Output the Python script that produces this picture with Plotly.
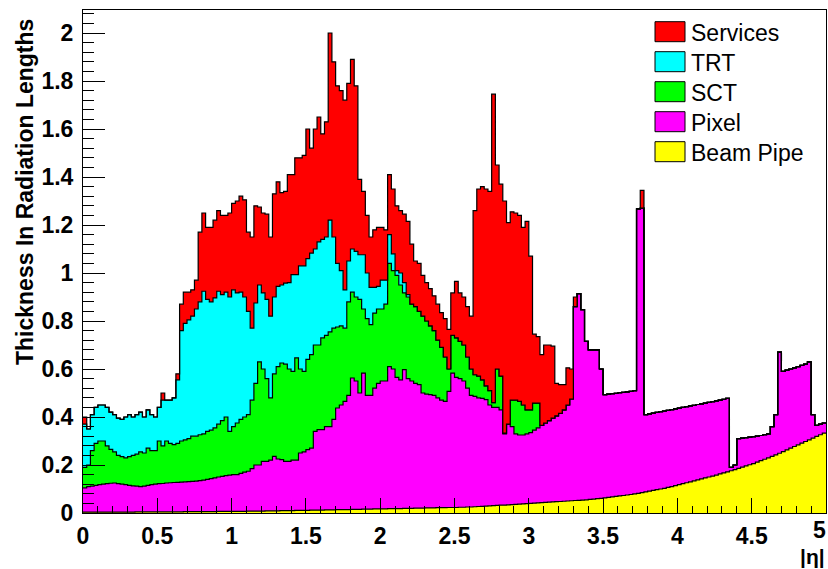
import plotly.graph_objects as go

# ---------------- data (stacked histogram tops, 200 bins of 0.025 in |eta|) ----------------
N_BINS = 200
BIN_W = 0.025

beam_pipe_top = [
    0.004, 0.004, 0.004, 0.004, 0.004, 0.004, 0.004, 0.004, 0.004, 0.004,
    0.004, 0.004, 0.004, 0.004, 0.005, 0.005, 0.005, 0.005, 0.005, 0.005,
    0.005, 0.005, 0.005, 0.005, 0.005, 0.005, 0.005, 0.006, 0.006, 0.006,
    0.006, 0.006, 0.006, 0.006, 0.006, 0.006, 0.007, 0.007, 0.007, 0.007,
    0.007, 0.007, 0.007, 0.007, 0.008, 0.008, 0.008, 0.008, 0.008, 0.009,
    0.009, 0.009, 0.009, 0.010, 0.010, 0.010, 0.010, 0.011, 0.011, 0.011,
    0.011, 0.012, 0.012, 0.012, 0.012, 0.013, 0.013, 0.013, 0.014, 0.014,
    0.014, 0.014, 0.015, 0.015, 0.015, 0.016, 0.016, 0.016, 0.017, 0.017,
    0.017, 0.017, 0.018, 0.018, 0.018, 0.018, 0.019, 0.019, 0.019, 0.020,
    0.020, 0.020, 0.021, 0.021, 0.021, 0.022, 0.022, 0.022, 0.023, 0.023,
    0.023, 0.024, 0.024, 0.025, 0.025, 0.026, 0.027, 0.028, 0.029, 0.030,
    0.031, 0.032, 0.033, 0.033, 0.034, 0.035, 0.036, 0.037, 0.038, 0.039,
    0.040, 0.041, 0.042, 0.043, 0.044, 0.045, 0.046, 0.047, 0.048, 0.049,
    0.050, 0.051, 0.052, 0.053, 0.054, 0.055, 0.057, 0.058, 0.060, 0.061,
    0.063, 0.065, 0.067, 0.069, 0.071, 0.073, 0.075, 0.077, 0.080, 0.082,
    0.085, 0.088, 0.091, 0.094, 0.097, 0.100, 0.103, 0.107, 0.110, 0.114,
    0.118, 0.122, 0.126, 0.130, 0.134, 0.138, 0.142, 0.146, 0.150, 0.154,
    0.158, 0.163, 0.167, 0.171, 0.176, 0.181, 0.186, 0.191, 0.196, 0.201,
    0.206, 0.212, 0.218, 0.224, 0.230, 0.236, 0.242, 0.249, 0.256, 0.263,
    0.270, 0.277, 0.284, 0.291, 0.298, 0.305, 0.312, 0.319, 0.326, 0.333,
]

pixel_top = [
    0.105, 0.11, 0.112, 0.115, 0.118, 0.12, 0.122, 0.124, 0.125, 0.122,
    0.12, 0.118, 0.115, 0.113, 0.112, 0.11, 0.112, 0.115, 0.118, 0.12,
    0.122, 0.123, 0.125, 0.126, 0.127, 0.128, 0.129, 0.13, 0.131, 0.132,
    0.133, 0.135, 0.137, 0.14, 0.143, 0.146, 0.15, 0.153, 0.156, 0.158,
    0.16, 0.16, 0.165, 0.17, 0.174, 0.185, 0.20, 0.20, 0.215, 0.215,
    0.22, 0.236, 0.225, 0.222, 0.215, 0.215, 0.22, 0.22, 0.25, 0.255,
    0.264, 0.27, 0.34, 0.347, 0.347, 0.36, 0.36, 0.39, 0.4375, 0.45,
    0.465, 0.49, 0.5625, 0.55, 0.50, 0.583, 0.49, 0.49, 0.52, 0.54,
    0.55, 0.55, 0.61, 0.60, 0.565, 0.555, 0.597, 0.56, 0.55, 0.54,
    0.535, 0.50, 0.495, 0.493, 0.49, 0.48, 0.47, 0.465, 0.507, 0.583,
    0.565, 0.56, 0.55, 0.52, 0.49, 0.486, 0.48, 0.478, 0.472, 0.45,
    0.44, 0.44, 0.43, 0.33, 0.37, 0.36, 0.33, 0.325, 0.325, 0.33,
    0.335, 0.345, 0.355, 0.365, 0.375, 0.385, 0.395, 0.405, 0.415, 0.43,
    0.45, 0.475, 0.86, 0.914, 0.847, 0.715, 0.68, 0.68, 0.68, 0.60,
    0.493, 0.495, 0.497, 0.499, 0.501, 0.503, 0.505, 0.507, 0.51, 1.267,
    1.27, 0.41, 0.413, 0.416, 0.419, 0.422, 0.425, 0.428, 0.431, 0.434,
    0.437, 0.44, 0.443, 0.446, 0.449, 0.452, 0.455, 0.458, 0.461, 0.464,
    0.467, 0.47, 0.474, 0.478, 0.19, 0.20, 0.31, 0.312, 0.314, 0.316,
    0.318, 0.32, 0.323, 0.326, 0.33, 0.36, 0.41, 0.67, 0.59, 0.595,
    0.60, 0.605, 0.61, 0.615, 0.62, 0.63, 0.41, 0.365, 0.37, 0.375,
]

# SCT contributes up to bin 122; beyond that its top equals the pixel top
sct_top_low = [
    0.19, 0.20, 0.26, 0.29, 0.30, 0.30, 0.28, 0.265, 0.255, 0.24,
    0.235, 0.23, 0.235, 0.24, 0.245, 0.255, 0.25, 0.27, 0.26, 0.26,
    0.30, 0.28, 0.30, 0.29, 0.285, 0.29, 0.30, 0.305, 0.31, 0.32,
    0.32, 0.326, 0.33, 0.34, 0.345, 0.355, 0.37, 0.385, 0.40, 0.34,
    0.36, 0.375, 0.39, 0.40, 0.41, 0.47, 0.54, 0.63, 0.60, 0.56,
    0.48, 0.58, 0.61, 0.625, 0.62, 0.60, 0.59, 0.646, 0.60, 0.59,
    0.64, 0.66, 0.70, 0.70, 0.73, 0.74, 0.755, 0.77, 0.775, 0.78,
    0.77, 0.88, 0.92, 0.90, 0.89, 0.85, 0.81, 0.785, 0.833, 0.85,
    0.85, 0.87, 1.04, 1.01, 0.99, 0.95, 0.917, 0.90, 0.87, 0.86,
    0.84, 0.82, 0.80, 0.78, 0.76, 0.72, 0.69, 0.65, 0.60, 0.74,
    0.73, 0.715, 0.70, 0.65, 0.60, 0.576, 0.57, 0.555, 0.53, 0.51,
    0.46, 0.60, 0.57, 0.333, 0.37, 0.47, 0.47, 0.465, 0.45, 0.43,
    0.43, 0.458, 0.458,
]
sct_top = sct_top_low + pixel_top[len(sct_top_low):]

# TRT contributes up to bin 87; beyond that its top equals the SCT top
trt_top_low = [
    0.37, 0.35, 0.41, 0.44, 0.45, 0.45, 0.44, 0.42, 0.41, 0.395,
    0.39, 0.40, 0.41, 0.40, 0.41, 0.42, 0.40, 0.43, 0.41, 0.40,
    0.44, 0.47, 0.47, 0.47, 0.48, 0.555, 0.76, 0.79, 0.805, 0.82,
    0.85, 0.88, 0.924, 0.89, 0.88, 0.896, 0.924, 0.91, 0.92, 0.90,
    0.93, 0.917, 0.92, 0.90, 0.84, 0.77, 0.875, 0.95, 0.917, 0.89,
    0.82, 0.90, 0.944, 0.95, 0.958, 0.96, 0.993, 0.993, 1.03, 1.03,
    1.06, 1.083, 1.10, 1.13, 1.14, 1.15, 1.22, 1.15, 1.04, 1.01,
    0.93, 1.05, 1.10, 1.09, 1.076, 1.076, 1.00, 0.94, 0.94, 0.944,
    0.97, 0.97, 1.16, 1.08, 1.01, 1.00, 0.96, 0.91,
]
trt_top = trt_top_low + sct_top[len(trt_top_low):]

services_top = [
    0.40, 0.35, 0.41, 0.44, 0.45, 0.45, 0.44, 0.42, 0.41, 0.395,
    0.39, 0.40, 0.41, 0.40, 0.41, 0.42, 0.40, 0.43, 0.41, 0.40,
    0.44, 0.50, 0.47, 0.47, 0.48, 0.58, 0.87, 0.92, 0.92, 0.93,
    0.97, 1.17, 1.25, 1.19, 1.19, 1.22, 1.26, 1.24, 1.24, 1.25,
    1.29, 1.30, 1.32, 1.305, 1.17, 1.15, 1.28, 1.275, 1.25, 1.245,
    1.15, 1.33, 1.38, 1.335, 1.34, 1.41, 1.41, 1.48, 1.48, 1.49,
    1.60, 1.52, 1.60, 1.65, 1.58, 1.63, 2.00, 1.88, 1.78, 1.76,
    1.72, 1.79, 1.89, 1.78, 1.39, 1.34, 1.24, 1.15, 1.18, 1.19,
    1.19, 1.18, 1.41, 1.35, 1.28, 1.26, 1.245, 1.215, 1.12, 1.05,
    1.04, 0.99, 0.96, 0.935, 0.905, 0.87, 0.835, 0.81, 0.765, 0.917,
    0.965, 0.917, 0.90, 0.86, 0.82, 1.26, 1.35, 1.36, 1.35, 1.34,
    1.745, 1.45, 1.37, 1.30, 1.21, 1.255, 1.25, 1.24, 1.19, 1.215,
    1.07, 0.745, 0.735, 0.66, 0.70, 0.70, 0.695, 0.54, 0.535, 0.535,
    0.605, 0.60, 0.90, 0.914, 0.847, 0.715, 0.68, 0.68, 0.68, 0.60,
    0.493, 0.495, 0.497, 0.499, 0.501, 0.503, 0.505, 0.507, 0.51, 1.267,
    1.344, 0.41, 0.413, 0.416, 0.419, 0.422, 0.425, 0.428, 0.431, 0.434,
    0.437, 0.44, 0.443, 0.446, 0.449, 0.452, 0.455, 0.458, 0.461, 0.464,
    0.467, 0.47, 0.474, 0.478, 0.19, 0.20, 0.31, 0.312, 0.314, 0.316,
    0.318, 0.32, 0.323, 0.326, 0.33, 0.36, 0.41, 0.67, 0.59, 0.595,
    0.60, 0.605, 0.61, 0.615, 0.62, 0.63, 0.41, 0.365, 0.37, 0.375,
]

layer_names = ["Beam Pipe", "Pixel", "SCT", "TRT", "Services"]
layer_colors = ["#FFFF00", "#FF00FF", "#00FF00", "#00FFFF", "#FF0000"]
layer_tops = [beam_pipe_top, pixel_top, sct_top, trt_top, services_top]

x_tick_vals = [0, 0.5, 1, 1.5, 2, 2.5, 3, 3.5, 4, 4.5]
x_tick_text = ["0", "0.5", "1", "1.5", "2", "2.5", "3", "3.5", "4", "4.5"]
x_last_label = "5"
x_title = "|η|"
y_title = "Thickness In Radiation Lengths"

# ---------------- figure ----------------
W, H = 828, 569
ML, MR, MT, MB = 83, 2, 10, 56
PW, PH = W - ML - MR, H - MT - MB

eta_edges = [i * BIN_W for i in range(N_BINS + 1)]

fig = go.Figure()
for k, (name, col, tops) in enumerate(zip(layer_names, layer_colors, layer_tops)):
    fig.add_trace(go.Scatter(
        x=eta_edges, y=tops + [tops[-1]],
        mode="lines", line=dict(shape="hv", color="black", width=1.2),
        fill="tozeroy" if k == 0 else "tonexty", fillcolor=col,
        name=name, showlegend=False, hoverinfo="skip",
    ))

def px_x(px):
    return (px - ML) / PW

def px_y(py):
    return (H - MB - py) / PH

bold = dict(family="Liberation Sans", size=23, color="black", weight="bold")

# manual ROOT-like legend (top to bottom)
shapes, annotations = [], []
for row, k in enumerate(reversed(range(len(layer_names)))):
    cy = 31.7 + 30 * row
    shapes.append(dict(type="rect", xref="paper", yref="paper",
                       x0=px_x(655), x1=px_x(685), y0=px_y(cy + 10), y1=px_y(cy - 10),
                       fillcolor=layer_colors[k], line=dict(color="black", width=1)))
    annotations.append(dict(xref="paper", yref="paper", x=px_x(689), y=px_y(cy + 1),
                            xanchor="left", yanchor="middle", showarrow=False,
                            text=layer_names[k],
                            font=dict(family="Liberation Sans", size=23, color="black")))

annotations.append(dict(xref="paper", yref="paper", x=px_x(25), y=px_y(192),
                        xanchor="center", yanchor="middle", showarrow=False, textangle=-90,
                        text=y_title,
                        font=dict(family="Liberation Sans", size=23, color="black", weight="bold")))
annotations.append(dict(xref="paper", yref="paper", x=px_x(827), y=px_y(556),
                        xanchor="right", yanchor="middle", showarrow=False,
                        text=x_title,
                        font=dict(family="Liberation Sans", size=21, color="black", weight="bold")))
# last x tick label kept inside the page edge
annotations.append(dict(xref="paper", yref="paper", x=px_x(828), y=px_y(515),
                        xanchor="right", yanchor="top", showarrow=False,
                        text=x_last_label, font=bold))

fig.update_layout(
    width=W, height=H,
    margin=dict(l=ML, r=MR, t=MT, b=MB, pad=0, autoexpand=False),
    paper_bgcolor="white", plot_bgcolor="white",
    shapes=shapes, annotations=annotations,
    showlegend=False,
    xaxis=dict(range=[0, 5], tickmode="array", tickvals=x_tick_vals, ticktext=x_tick_text,
               ticks="inside", ticklen=15, tickwidth=1, tickcolor="black",
               minor=dict(tick0=0, dtick=0.1, ticks="inside", ticklen=7, tickwidth=1,
                          tickcolor="black"),
               showline=True, linecolor="black", linewidth=1, mirror=True,
               showgrid=False, zeroline=False, tickfont=bold, ticklabelstandoff=2,
               ticklabeloverflow="allow", automargin=False),
    yaxis=dict(range=[0, PH / 240.0], tickmode="linear", tick0=0, dtick=0.2,
               ticks="inside", ticklen=22, tickwidth=1, tickcolor="black",
               minor=dict(dtick=0.04, ticks="inside", ticklen=11, tickwidth=1, tickcolor="black"),
               showline=True, linecolor="black", linewidth=1, mirror=True,
               showgrid=False, zeroline=False, tickfont=bold, ticklabelstandoff=4,
               ticklabeloverflow="allow", automargin=False),
)

fig.write_html(
    "out.html",
    config={"displayModeBar": False, "staticPlot": True},
    post_script="document.body.style.margin='0';document.body.style.overflow='hidden';",
)
